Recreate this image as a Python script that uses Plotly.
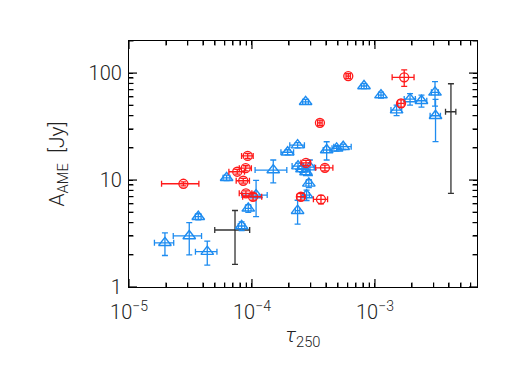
import plotly.graph_objects as go

# Red circles (tau_250, A_AME [Jy], x error, y error)
red_x = [2.77e-5, 8.93e-5, 1.02e-4, 8.49e-5, 7.59e-5, 8.89e-5, 9.23e-5,
         2.75e-4, 3.92e-4, 2.50e-4, 3.64e-4, 3.57e-4, 6.07e-4, 1.73e-3, 1.63e-3]
red_y = [9.23, 7.51, 6.98, 9.85, 11.96, 12.9, 16.8,
         14.5, 13.0, 6.98, 6.6, 34.3, 93.7, 91.2, 52.1]
red_xerr = [0.93e-5, 1.05e-5, 1.8e-5, 1.05e-5, 1.1e-5, 1.0e-5, 1.0e-5,
            2.5e-5, 6.3e-5, 1.8e-5, 4.8e-5, 1.5e-5, 2.5e-5, 0.35e-3, 0.1e-3]
red_yerr = [0.4, 0.4, 0.5, 0.5, 0.6, 0.7, 0.9,
            0.8, 0.8, 0.5, 0.6, 2.0, 5.0, 16.0, 4.0]

# Blue triangles
blue_x = [1.96e-5, 3.09e-5, 4.33e-5, 3.66e-5, 8.24e-5, 9.33e-5, 1.08e-4, 6.22e-5,
          1.49e-4, 2.35e-4, 1.95e-4, 4.05e-4, 4.88e-4, 5.52e-4, 2.73e-4, 8.15e-4,
          1.12e-3, 1.50e-3, 1.93e-3, 2.39e-3, 3.08e-3, 3.11e-3,
          2.37e-4, 2.55e-4, 2.75e-4, 2.96e-4, 2.90e-4, 2.78e-4, 2.35e-4]
blue_y = [2.59, 3.0, 2.14, 4.54, 3.72, 5.44, 7.24, 10.5,
          12.4, 21.2, 18.2, 19.1, 19.8, 20.5, 53.9, 75.7,
          62.3, 45.1, 57.2, 55.1, 66.1, 39.9,
          13.5, 12.7, 11.9, 13.2, 9.31, 7.24, 5.17]
blue_xerr = [0.35e-5, 0.8e-5, 0.86e-5, 0.2e-5, 0.5e-5, 0.5e-5, 2.5e-5, 0.4e-5,
             0.43e-4, 3.2e-5, 2.3e-5, 2.5e-5, 4.0e-5, 8.9e-5, 1.5e-5, 4.0e-5,
             5.0e-5, 1.5e-4, 2.0e-4, 2.5e-4, 2.0e-4, 3.0e-4,
             2.5e-5, 2.0e-5, 2.0e-5, 2.5e-5, 1.5e-5, 1.5e-5, 1.0e-5]
blue_yerr = [0.62, 1.0, 0.54, 0.3, 0.35, 0.45, 2.7, 0.6,
             3.0, 1.2, 1.0, 3.7, 1.2, 1.2, 3.0, 4.0,
             4.0, 5.0, 7.0, 7.0, 17.0, 17.0,
             0.9, 0.9, 0.9, 2.2, 0.8, 0.8, 1.3]

# Black error bars (no marker)
black_x = [7.28e-5, 4.15e-3]
black_y = [3.41, 43.5]
black_xerr = [2.3e-5, 0.4e-3]
black_yerr = [1.78, 36.0]

# axis ranges (log10), major tick values/labels
x_range = [-5, -2.17]
y_range = [0, 2.3]
x_major = [1e-5, 1e-4, 1e-3]
x_labels = ["10<sup>−5</sup>", "10<sup>−4</sup>", "10<sup>−3</sup>"]
y_major = [1, 10, 100]
y_labels = ["1", "10", "100"]
x_decades = [-5, -4, -3]
y_decades = [0, 1, 2]

# all tick positions (major + minor); only the decades get a label
x_ticks, x_text = [], []
for e, lab in zip(x_decades, x_labels):
    for m in range(1, 10):
        x_ticks.append(m * 10.0 ** e)
        x_text.append(lab if m == 1 else "")
y_ticks, y_text = [], []
for e, lab in zip(y_decades, y_labels):
    for m in range(1, 10):
        y_ticks.append(m * 10.0 ** e)
        y_text.append(lab if m == 1 else "")

RED = "#ff1a1a"
BLUE = "#1e8cf0"
BLACK = "#333333"

fig = go.Figure()

fig.add_trace(go.Scatter(
    x=black_x, y=black_y, mode="markers",
    marker=dict(size=1, color=BLACK),
    error_x=dict(type="data", array=black_xerr, color=BLACK, thickness=1.3, width=3),
    error_y=dict(type="data", array=black_yerr, color=BLACK, thickness=1.3, width=3),
    showlegend=False))

fig.add_trace(go.Scatter(
    x=blue_x, y=blue_y, mode="markers",
    marker=dict(symbol="triangle-up-open", size=11, color=BLUE, line=dict(width=1.4, color=BLUE)),
    error_x=dict(type="data", array=blue_xerr, color=BLUE, thickness=1.3, width=3),
    error_y=dict(type="data", array=blue_yerr, color=BLUE, thickness=1.3, width=3),
    showlegend=False))

fig.add_trace(go.Scatter(
    x=red_x, y=red_y, mode="markers",
    marker=dict(symbol="circle-open", size=9, color=RED, line=dict(width=1.3, color=RED)),
    error_x=dict(type="data", array=red_xerr, color=RED, thickness=1.3, width=3),
    error_y=dict(type="data", array=red_yerr, color=RED, thickness=1.3, width=3),
    showlegend=False))

FONT = "Roboto"
TXT = "#222"
axis_common = dict(
    showline=True, linecolor="black", linewidth=1.2, mirror="allticks",
    ticks="inside", ticklen=4, tickcolor="black", tickwidth=1.2,
    showgrid=False, zeroline=False, tickmode="array",
    tickfont=dict(family=FONT, size=20, color=TXT, weight=300),
)

# inward tick marks on all four sides (major longer than minor), drawn as axis-referenced lines
PLOT_W, PLOT_H = 348.0, 246.0
MAJ, MIN = 8.0, 4.5
shapes = []
for v in x_ticks:
    ln = (MAJ if v in x_major else MIN) / PLOT_H
    for y0, y1 in ((0, ln), (1 - ln, 1)):
        shapes.append(dict(type="line", xref="x", yref="y domain", x0=v, x1=v, y0=y0, y1=y1,
                           line=dict(color="black", width=1.2), layer="above"))
for v in y_ticks:
    ln = (MAJ if v in y_major else MIN) / PLOT_W
    for x0, x1 in ((0, ln), (1 - ln, 1)):
        shapes.append(dict(type="line", xref="x domain", yref="y", x0=x0, x1=x1, y0=v, y1=v,
                           line=dict(color="black", width=1.2), layer="above"))

fig.update_layout(
    width=518, height=370,
    margin=dict(l=121, r=49, t=33, b=91),
    paper_bgcolor="white", plot_bgcolor="white",
    shapes=shapes,
    xaxis=dict(type="log", range=x_range, tickvals=x_ticks, ticktext=x_text, ticklabelstandoff=7,
               title=dict(text="<i>τ</i><sub>250</sub>",
                          font=dict(family=FONT, size=21, color=TXT, weight=300), standoff=4),
               **axis_common),
    yaxis=dict(type="log", range=y_range, tickvals=y_ticks, ticktext=y_text, ticklabelstandoff=2,
               title=dict(text="A<sub>AME</sub>  [Jy]",
                          font=dict(family=FONT, size=21, color=TXT, weight=300), standoff=18),
               **axis_common),
)

fig.write_html("out.html")
